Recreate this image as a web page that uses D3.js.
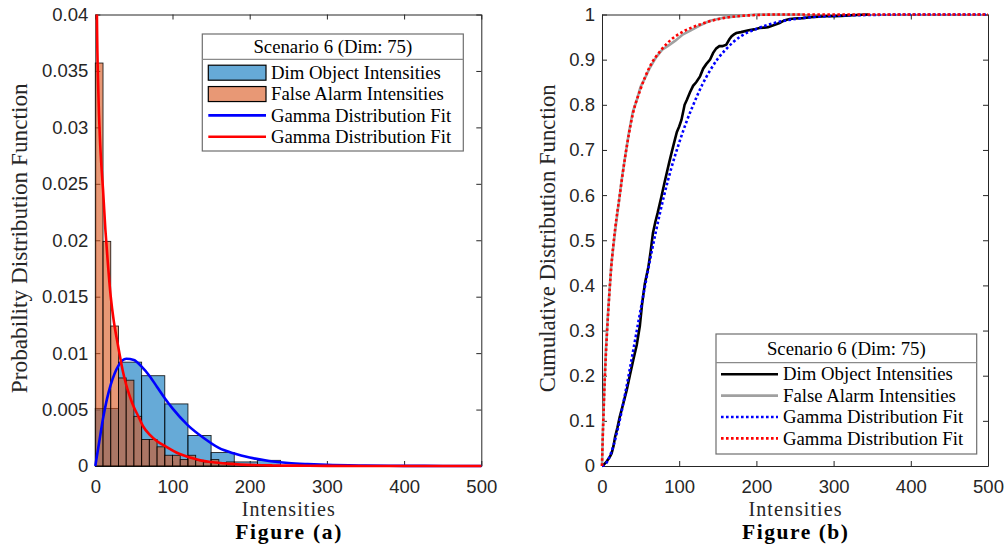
<!DOCTYPE html>
<html><head><meta charset="utf-8">
<script src="https://cdn.jsdelivr.net/npm/d3@7"></script>
<style>body{margin:0;background:#fff;} svg{display:block}</style>
</head><body>
<svg id="chart" width="1007" height="551"></svg>
<script>
// ---------------- data ----------------
const xTicks = [0, 100, 200, 300, 400, 500];
const pdfTicks = [0, 0.005, 0.01, 0.015, 0.02, 0.025, 0.03, 0.035, 0.04];
const pdfTickLabels = ["0", "0.005", "0.01", "0.015", "0.02", "0.025", "0.03", "0.035", "0.04"];
const cdfTicks = [0, 0.1, 0.2, 0.3, 0.4, 0.5, 0.6, 0.7, 0.8, 0.9, 1];
const cdfTickLabels = ["0", "0.1", "0.2", "0.3", "0.4", "0.5", "0.6", "0.7", "0.8", "0.9", "1"];

const legendTitle = "Scenario 6 (Dim: 75)";
const pdfLegendLabels = ["Dim Object Intensities", "False Alarm Intensities", "Gamma Distribution Fit", "Gamma Distribution Fit"];
const cdfLegendLabels = ["Dim Object Intensities", "False Alarm Intensities", "Gamma Distribution Fit", "Gamma Distribution Fit"];

// histogram of dim object intensities (bin width 30)
const dimBinStart = [0, 30, 60, 90, 120, 150, 180, 210];
const dimBinWidth = 30;
const dimPdfHist = [0.0051, 0.0092, 0.0080, 0.0055, 0.0027, 0.00119, 0.00036, 0.0005];

// histogram of false alarm intensities (bin width 10)
const faBinStart = [0, 10, 20, 30, 40, 50, 60, 70, 80, 90, 100, 110, 120, 130, 140, 150, 160, 170];
const faBinWidth = 10;
const faPdfHist = [0.0357, 0.0199, 0.0124, 0.0078, 0.0076, 0.0044, 0.00235, 0.00235, 0.0017, 0.00095, 0.00095, 0.00057, 0.00095, 0.0005, 0.00036, 0.00057, 0.0003, 0.00036];

// gamma fit PDF curves
const dimFitX = [0, 5, 10, 15, 20, 30, 40, 50, 60, 70, 80, 90, 100, 120, 140, 160, 180, 200, 225, 250, 275, 300, 350, 400, 450, 500];
const dimFitPdf = [0, 0.0021, 0.0042, 0.0059, 0.0072, 0.0089, 0.0095, 0.0094, 0.0088, 0.0080, 0.0070, 0.0060, 0.0051, 0.0036, 0.0025, 0.0016, 0.0011, 0.00075, 0.00045, 0.00027, 0.00017, 0.0001, 0.00004, 0.000015, 0.000005, 0];
const faFitX = [0.5, 1, 2, 4, 6, 8, 10, 13, 16, 20, 24, 28, 32, 36, 40, 45, 50, 55, 62, 70, 80, 92, 105, 115, 125, 136, 150, 165, 180, 200, 230, 260, 300, 400, 500];
const faFitPdf = [0.075, 0.055, 0.0405, 0.033, 0.029, 0.0265, 0.0245, 0.021, 0.0182, 0.0150, 0.0128, 0.0112, 0.0097, 0.0083, 0.0072, 0.0061, 0.0052, 0.0045, 0.0035, 0.0028, 0.0022, 0.0017, 0.0012, 0.00093, 0.0007, 0.0005, 0.00035, 0.00025, 0.00017, 0.0001, 0.00005, 0.00003, 0.00001, 0, 0];

// empirical CDFs
const dimEcdfX = [0, 2, 6, 10, 12.5, 15, 17, 20, 23, 26, 29, 32, 36, 40.5, 45, 49, 52, 55.6, 60, 63, 66, 69, 72, 77, 81, 84, 87, 90, 94, 97, 100, 103, 107, 110, 114, 118, 122, 127, 131, 135, 140, 144, 148, 152, 156, 161, 165, 168, 171, 174, 180, 190, 197, 204, 210, 215, 222, 230, 236, 243, 250, 260, 270, 280, 290, 300, 310, 320, 330, 345];
const dimEcdfY = [0, 0.002, 0.01, 0.02, 0.028, 0.045, 0.065, 0.085, 0.109, 0.128, 0.148, 0.168, 0.2, 0.235, 0.268, 0.31, 0.36, 0.405, 0.44, 0.475, 0.516, 0.54, 0.56, 0.597, 0.628, 0.65, 0.672, 0.693, 0.72, 0.74, 0.752, 0.767, 0.80, 0.811, 0.828, 0.842, 0.85, 0.863, 0.88, 0.89, 0.9, 0.915, 0.925, 0.93, 0.93, 0.933, 0.945, 0.952, 0.956, 0.959, 0.961, 0.965, 0.967, 0.97, 0.971, 0.972, 0.976, 0.981, 0.987, 0.99, 0.991, 0.992, 0.994, 0.995, 0.996, 0.996, 0.997, 0.998, 0.999, 1];
const faEcdfX = [0, 0.5, 1, 2, 3, 5, 8, 12, 17, 20, 23, 26, 30, 35, 40, 45, 50, 55, 62, 70, 78, 85, 95, 105, 115, 127, 140, 157, 180, 200, 260];
const faEcdfY = [0, 0.03, 0.07, 0.12, 0.175, 0.255, 0.345, 0.445, 0.52, 0.56, 0.6, 0.64, 0.685, 0.74, 0.785, 0.81, 0.84, 0.857, 0.882, 0.905, 0.922, 0.93, 0.942, 0.956, 0.965, 0.976, 0.986, 0.993, 0.997, 1, 1];

// gamma fit CDFs
const dimCdfFitX = [0, 5, 10, 15, 20, 30, 40, 50, 60, 70, 80, 90, 100, 110, 120, 130, 140, 150, 160, 180, 200, 225, 250, 300, 350, 400, 500];
const dimCdfFitY = [0, 0.005, 0.021, 0.046, 0.079, 0.16, 0.252, 0.346, 0.437, 0.521, 0.596, 0.661, 0.716, 0.765, 0.807, 0.845, 0.876, 0.902, 0.922, 0.952, 0.968, 0.982, 0.99, 0.997, 0.999, 1, 1];
const faCdfFitX = [0, 0.5, 1, 2, 3, 5, 8, 12, 17, 23, 30, 40, 50, 62, 75, 90, 105, 127, 157, 190, 230, 300, 500];
const faCdfFitY = [0, 0.035, 0.065, 0.115, 0.165, 0.245, 0.34, 0.44, 0.525, 0.6, 0.685, 0.78, 0.835, 0.885, 0.918, 0.945, 0.962, 0.978, 0.992, 0.998, 1, 1, 1];

// ---------------- drawing ----------------
const svg = d3.select("#chart");
const AX = "#262626";
const SERIF = "'Liberation Serif', 'Times New Roman', serif";
const SANS = "'Liberation Sans', Arial, sans-serif";
const TOP = 14.5, BOTTOM = 466;
const panels = [
  {x0: 95.3, x1: 481.3, ymax: 0.04, ticks: pdfTicks, labels: pdfTickLabels, ylab: "Probability Distribution Function", ylabX: 27, fig: "Figure (a)", id: "a"},
  {x0: 602, x1: 988, ymax: 1, ticks: cdfTicks, labels: cdfTickLabels, ylab: "Cumulative Distribution Function", ylabX: 555, fig: "Figure (b)", id: "b"}
];

const defs = svg.append("defs");

function fitFont(sel, target) {
  const w = sel.node().getComputedTextLength();
  const fs = parseFloat(sel.attr("font-size"));
  sel.attr("font-size", fs * target / w);
  return fs * target / w;
}

panels.forEach(p => {
  p.x = d3.scaleLinear().domain([0, 500]).range([p.x0, p.x1]);
  p.y = d3.scaleLinear().domain([0, p.ymax]).range([BOTTOM, TOP]);
  const g = svg.append("g");
  p.g = g;
  const tick = 5;
  const fmt = (d) => p.labels[p.ticks.indexOf(d)];
  const ax = (sel) => sel.call(s => s.selectAll("path.domain").attr("stroke", AX).attr("stroke-width", 1))
     .call(s => s.selectAll(".tick line").attr("stroke", AX).attr("stroke-width", 1))
     .call(s => s.selectAll(".tick text").attr("fill", AX).attr("font-family", SANS).attr("font-size", 18.5));
  g.append("g").attr("transform", `translate(0,${BOTTOM})`)
    .call(d3.axisBottom(p.x).tickValues(xTicks).tickSizeInner(-tick).tickSizeOuter(0).tickPadding(14).tickFormat(d3.format("d")))
    .call(ax);
  g.append("g").attr("transform", `translate(0,${TOP})`)
    .call(d3.axisTop(p.x).tickValues(xTicks).tickSizeInner(-tick).tickSizeOuter(0).tickFormat(""))
    .call(ax);
  g.append("g").attr("transform", `translate(${p.x0},0)`)
    .call(d3.axisLeft(p.y).tickValues(p.ticks).tickSizeInner(-tick).tickSizeOuter(0).tickPadding(7).tickFormat(fmt))
    .call(ax);
  g.append("g").attr("transform", `translate(${p.x1},0)`)
    .call(d3.axisRight(p.y).tickValues(p.ticks).tickSizeInner(-tick).tickSizeOuter(0).tickFormat(""))
    .call(ax);

  // axis titles
  const cx = (p.x0 + p.x1) / 2;
  g.append("text").attr("x", cx).attr("y", 515.5).attr("text-anchor", "middle")
    .attr("font-family", SERIF).attr("font-size", 20).attr("fill", AX)
    .attr("textLength", 93).attr("lengthAdjust", "spacing").text("Intensities");
  g.append("text").attr("x", cx).attr("y", 538.5).attr("text-anchor", "middle")
    .attr("font-family", SERIF).attr("font-weight", "bold").attr("font-size", 21.5).attr("fill", "#000")
    .attr("textLength", 106).attr("lengthAdjust", "spacing").text(p.fig);
  const yl = g.append("text").attr("transform", `translate(${p.ylabX},${(TOP + BOTTOM) / 2 - 2}) rotate(-90)`)
    .attr("text-anchor", "middle").attr("font-family", SERIF).attr("font-size", 21).attr("fill", AX).text(p.ylab);
  fitFont(yl, p.id === "a" ? 310 : 308);

  // clip
  const pad = 3;
  defs.append("clipPath").attr("id", "clip" + p.id).append("rect")
    .attr("x", p.x0 - pad).attr("y", p.id === "a" ? TOP : TOP - pad)
    .attr("width", p.x1 - p.x0 + 2 * pad).attr("height", BOTTOM - TOP + pad + (p.id === "a" ? 0 : pad));
  p.plot = g.append("g").attr("clip-path", `url(#clip${p.id})`);
});

// ---- Panel (a): histograms + gamma pdf fits ----
const A = panels[0];
const BLUE = "#0072BD", ORANGE = "#D95319";
A.plot.append("g").selectAll("rect").data(dimBinStart.map((s, i) => ({s, v: dimPdfHist[i]})))
  .join("rect")
  .attr("x", d => A.x(d.s)).attr("width", d => A.x(d.s + dimBinWidth) - A.x(d.s))
  .attr("y", d => A.y(d.v)).attr("height", d => A.y(0) - A.y(d.v))
  .attr("fill", BLUE).attr("fill-opacity", 0.6).attr("stroke", "#000").attr("stroke-opacity", 0.85).attr("stroke-width", 0.9);
A.plot.append("g").selectAll("rect").data(faBinStart.map((s, i) => ({s, v: faPdfHist[i]})))
  .join("rect")
  .attr("x", d => A.x(d.s)).attr("width", d => A.x(d.s + faBinWidth) - A.x(d.s))
  .attr("y", d => A.y(d.v)).attr("height", d => A.y(0) - A.y(d.v))
  .attr("fill", ORANGE).attr("fill-opacity", 0.6).attr("stroke", "#000").attr("stroke-opacity", 0.85).attr("stroke-width", 0.9);

const lineA = d3.line().x(d => A.x(d[0])).y(d => A.y(d[1])).curve(d3.curveMonotoneX);
A.plot.append("path").datum(dimFitX.map((x, i) => [x, dimFitPdf[i]]))
  .attr("d", lineA).attr("fill", "none").attr("stroke", "#0000FF").attr("stroke-width", 2.6);
A.plot.append("path").datum(faFitX.map((x, i) => [x, faFitPdf[i]]))
  .attr("d", lineA).attr("fill", "none").attr("stroke", "#FF0000").attr("stroke-width", 2.6);

// ---- Panel (b): CDFs ----
const B = panels[1];
const lineB = d3.line().x(d => B.x(d[0])).y(d => B.y(d[1]));
const lineBs = d3.line().x(d => B.x(d[0])).y(d => B.y(d[1])).curve(d3.curveMonotoneX);
B.plot.append("path").datum(faEcdfX.map((x, i) => [x, faEcdfY[i]]))
  .attr("d", lineB).attr("fill", "none").attr("stroke", "#A0A0A0").attr("stroke-width", 2.6);
B.plot.append("path").datum(dimEcdfX.map((x, i) => [x, dimEcdfY[i]]))
  .attr("d", lineB).attr("fill", "none").attr("stroke", "#000").attr("stroke-width", 2.6);
B.plot.append("path").datum(dimCdfFitX.map((x, i) => [x, dimCdfFitY[i]]))
  .attr("d", lineBs).attr("fill", "none").attr("stroke", "#0000FF").attr("stroke-width", 2.6).attr("stroke-dasharray", "2.6,2.4");
B.plot.append("path").datum(faCdfFitX.map((x, i) => [x, faCdfFitY[i]]))
  .attr("d", lineBs).attr("fill", "none").attr("stroke", "#FF0000").attr("stroke-width", 2.6).attr("stroke-dasharray", "2.6,2.4");

// ---- Legends ----
function legend(box, items, labels) {
  const g = svg.append("g");
  g.append("rect").attr("x", box.x).attr("y", box.y).attr("width", box.w).attr("height", box.h)
    .attr("fill", "#fff").attr("stroke", "#6e6e6e").attr("stroke-width", 1.2);
  g.append("line").attr("x1", box.x).attr("x2", box.x + box.w).attr("y1", box.sep).attr("y2", box.sep)
    .attr("stroke", "#8a8a8a").attr("stroke-width", 1.2);
  const sample = g.append("text").attr("x", -1000).attr("y", -1000).attr("font-family", SERIF).attr("font-size", 17).text(labels[1]);
  const fs = fitFont(sample, 173);
  sample.remove();
  g.append("text").attr("x", box.x + box.w / 2).attr("y", box.titleY).attr("dy", "0.35em").attr("text-anchor", "middle")
    .attr("font-family", SERIF).attr("font-size", fs).attr("fill", "#000").text(legendTitle);
  items.forEach((it, i) => {
    const cy = box.row0 + i * box.dy;
    if (it.type === "patch") {
      g.append("rect").attr("x", box.sx0).attr("width", box.sx1 - box.sx0).attr("y", cy - 7.5).attr("height", 15)
        .attr("fill", it.color).attr("fill-opacity", 0.6).attr("stroke", "#000").attr("stroke-width", 1.2);
    } else {
      g.append("line").attr("x1", box.sx0).attr("x2", box.sx1).attr("y1", cy).attr("y2", cy)
        .attr("stroke", it.color).attr("stroke-width", 2.6).attr("stroke-dasharray", it.dash || null);
    }
    g.append("text").attr("x", box.tx).attr("y", cy).attr("dy", "0.33em")
      .attr("font-family", SERIF).attr("font-size", fs).attr("fill", "#000").text(labels[i]);
  });
}
legend({x: 202.3, y: 34, w: 261, h: 117, sep: 59.3, titleY: 46.7, row0: 72.7, dy: 21.35, sx0: 208.3, sx1: 266, tx: 271},
  [{type: "patch", color: BLUE}, {type: "patch", color: ORANGE}, {type: "line", color: "#0000FF"}, {type: "line", color: "#FF0000"}],
  pdfLegendLabels);
legend({x: 716, y: 334, w: 260.7, h: 120, sep: 362.7, titleY: 348.3, row0: 374.3, dy: 21.35, sx0: 721, sx1: 778, tx: 783},
  [{type: "line", color: "#000"}, {type: "line", color: "#A0A0A0"}, {type: "line", color: "#0000FF", dash: "2.6,2.4"}, {type: "line", color: "#FF0000", dash: "2.6,2.4"}],
  cdfLegendLabels);
</script>
</body></html>
